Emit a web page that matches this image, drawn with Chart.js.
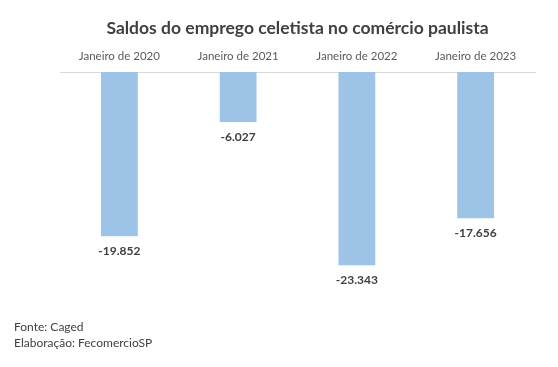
<!DOCTYPE html>
<html lang="pt-BR">
<head>
<meta charset="utf-8">
<script src="https://cdn.jsdelivr.net/npm/chart.js@4/dist/chart.umd.min.js"></script>
<style>
  html, body { margin: 0; padding: 0; background: #fff; }
  #wrap { position: relative; width: 558px; height: 367px; }
  #note { position: absolute; left: 14px; top: 319px; font: 12px Lato, sans-serif; line-height: 16px; color: #404040; }
</style>
</head>
<body>
<div id="wrap">
  <canvas id="chart" width="558" height="367"></canvas>
  <div id="note">Fonte: Caged<br>Elaboração: FecomercioSP</div>
</div>
<script>
// ─── Data ────────────────────────────────────────────────────────────────
const categories = ['Janeiro de 2020', 'Janeiro de 2021', 'Janeiro de 2022', 'Janeiro de 2023'];
const saldos = [-19852, -6027, -23343, -17656];

const FONT = 'Lato, sans-serif';

// thousands with '.', like the source
function fmt(v) {
  const s = Math.abs(v).toString().replace(/\B(?=(\d{3})+(?!\d))/g, '.');
  return (v < 0 ? '-' : '') + s;
}

// value labels just below the end of each bar
const valueLabels = {
  id: 'valueLabels',
  afterDatasetsDraw(chart) {
    const ctx = chart.ctx;
    const meta = chart.getDatasetMeta(0);
    ctx.save();
    ctx.font = `bold 12px ${FONT}`;
    ctx.fillStyle = '#404040';
    ctx.textAlign = 'center';
    ctx.textBaseline = 'middle';
    meta.data.forEach((bar, i) => {
      ctx.fillText(fmt(saldos[i]), bar.x, bar.y + 15);
    });
    ctx.restore();
  }
};

new Chart(document.getElementById('chart'), {
  type: 'bar',
  data: {
    labels: categories,
    datasets: [{
      data: saldos,
      backgroundColor: '#9DC3E6',
      borderWidth: 0,
      categoryPercentage: 1,
      barPercentage: 0.31,
    }],
  },
  options: {
    responsive: false,
    animation: false,
    layout: { padding: { left: 60, right: 23, top: 0, bottom: 88 } },
    plugins: {
      legend: { display: false },
      tooltip: { enabled: false },
      title: {
        display: true,
        text: 'Saldos do emprego celetista no comércio paulista',
        color: '#404040',
        font: { family: FONT, size: 17.5, weight: 'bold', lineHeight: 1.2 },
        padding: { top: 18, bottom: 9.5 },
      },
    },
    scales: {
      x: {
        position: 'top',
        grid: { display: false, drawTicks: false },
        border: { display: true, color: '#d9d9d9', width: 1 },
        ticks: { color: '#595959', font: { family: FONT, size: 11.5 }, padding: 9, maxRotation: 0 },
        afterFit(s) { s.height = 23.5; },
      },
      y: { display: false, min: -25000, max: 0 },
    },
  },
  plugins: [valueLabels],
});
</script>
</body>
</html>
